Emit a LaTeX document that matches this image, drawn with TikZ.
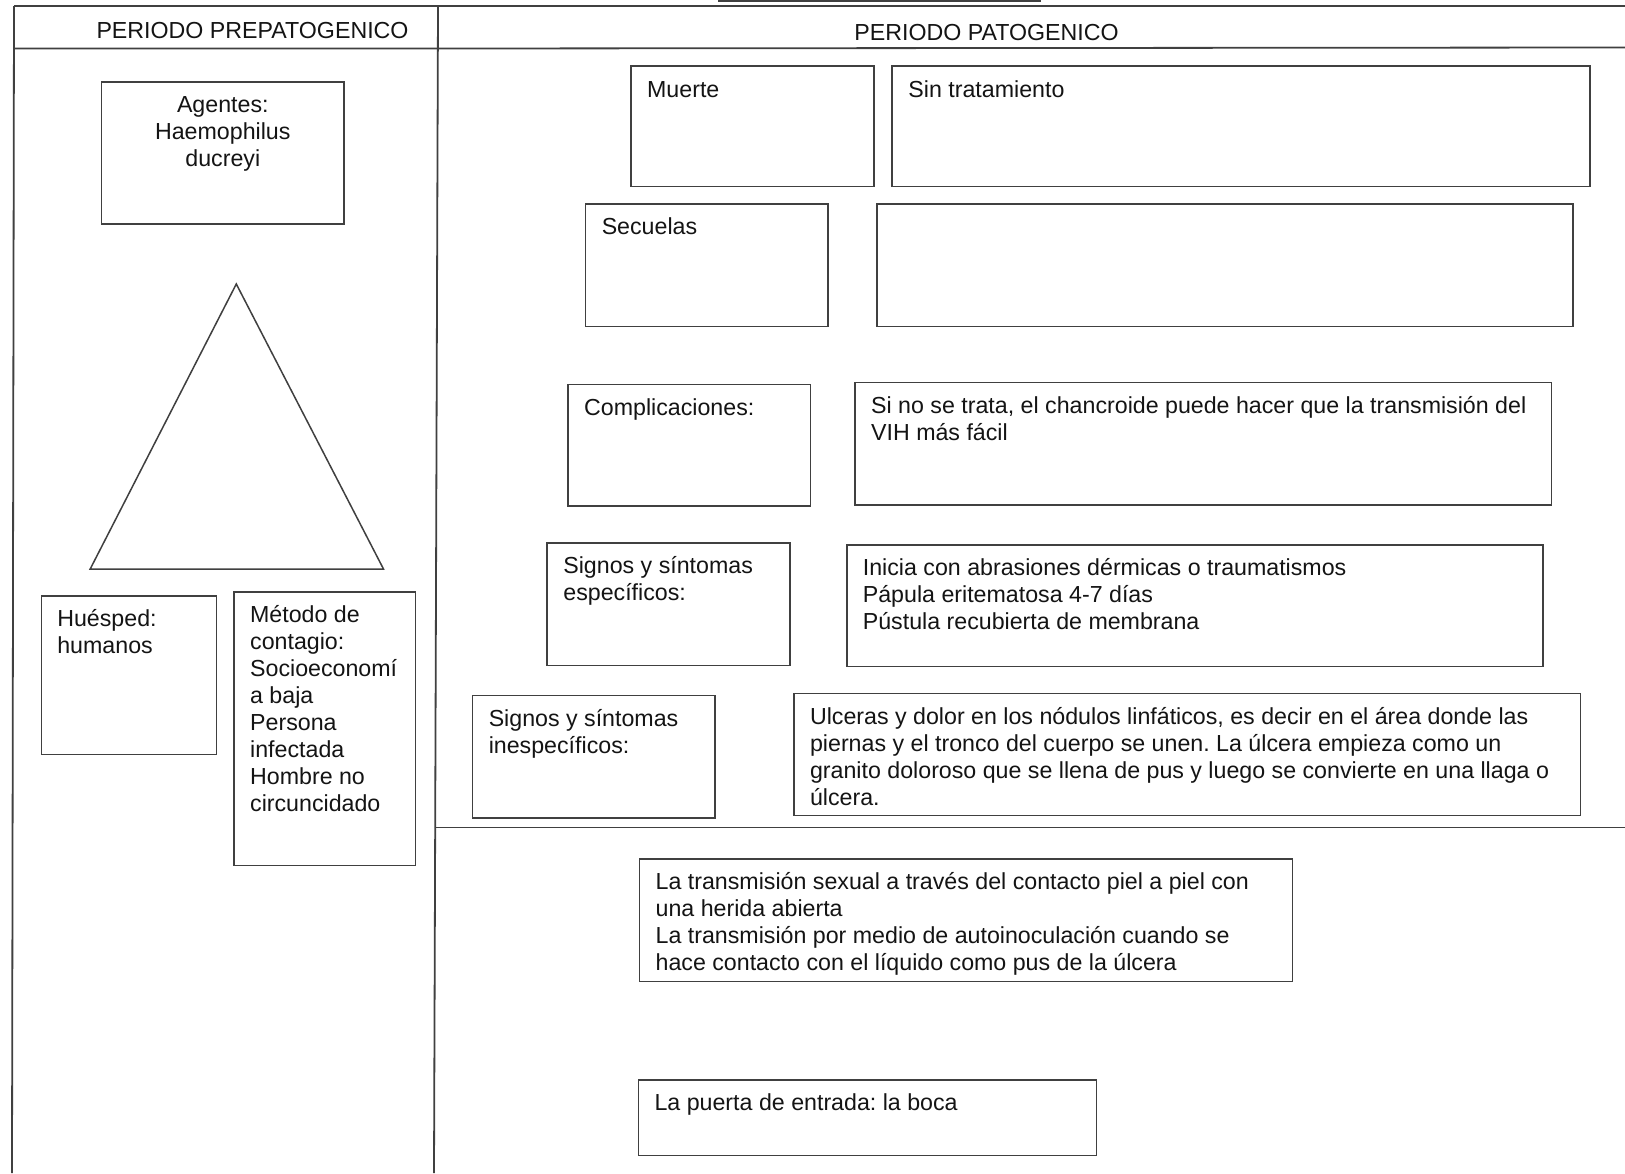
\documentclass[tikz,border=0pt]{standalone}
\usepackage{fontspec}
\setmainfont{Liberation Sans}
\usetikzlibrary{fit}
\definecolor{linea}{gray}{0.25}
\definecolor{tinta}{gray}{0.08}
\newcommand\letra{\fontsize{23.2pt}{27pt}\selectfont\frenchspacing}
\begin{document}
\begin{tikzpicture}[x=1pt,y=-1pt,
  marco/.style={draw=linea,line width=1.8pt},
  caja/.style={draw=linea,line width=1.7pt,inner sep=0pt,fit={#1}},
  txt/.style={anchor=north west,inner sep=0pt,align=left,text=tinta,font=\letra},
  titulo/.style={anchor=base,inner sep=0pt,text=tinta,font=\letra}]
\useasboundingbox[fill=white] (0,0) rectangle (1625,1173);

% frame of the table
\coordinate (tl) at (14,6);
\coordinate (tr) at (1625,6);
\coordinate (bl) at (12,1173);
\coordinate (mt) at (438,6);
\coordinate (mb) at (434,1173);
\coordinate (hl) at (14,48.5);
\coordinate (hm) at (438,48.5);
\coordinate (hr) at (1625,47.5);
\coordinate (dl) at (434.5,827.5);
\coordinate (dr) at (1625,827.5);
\draw[marco] (tl) -- (tr);
\draw[marco] (tl) -- (bl);
\draw[marco] (mt) -- (mb);
\draw[marco] (hl) -- (hm) -- (hr);
\draw[marco] (dl) -- (dr);
\node[caja={(719,-6) (1040,1)}] (arriba) {};

% column headings
\node[titulo] (tpre) at (252.5,38) {PERIODO PREPATOGENICO};
\node[titulo] (tpat) at (986.5,40) {PERIODO PATOGENICO};

% prepathogenic period
\node[caja={(101.6,81.9) (344,223.9)}] (agentes) {};
\node[txt,anchor=north,align=center] (tagentes) at ([yshift=-12pt]agentes.north)
  {\strut Agentes:\\Haemophilus\\ducreyi};

\coordinate (ta) at (236.3,284);
\coordinate (tb) at (90.2,569);
\coordinate (tc) at (383.5,569);
\draw[draw=linea,line width=1.5pt,line join=miter] (ta) -- (tb) -- (tc) -- cycle;

\node[caja={(41.5,596) (216.6,754.5)}] (huesped) {};
\node[txt] (thuesped) at ([shift={(16.5,12.5)}]huesped.north west)
  {\strut Huésped:\\humanos};

\node[caja={(234,591.8) (415.6,865.4)}] (metodo) {};
\node[txt] (tmetodo) at ([shift={(16.8,12.5)}]metodo.north west)
  {\strut Método de\\contagio:\\Socioeconomí\\a baja\\Persona\\infectada\\Hombre no\\circuncidado};

% pathogenic period
\node[caja={(631,66.3) (873.7,186.6)}] (muerte) {};
\node[txt] (tmuerte) at ([shift={(16.8,12.5)}]muerte.north west) {\strut Muerte};

\node[caja={(892.3,66.3) (1589.8,186.6)}] (sintrat) {};
\node[txt] (tsintrat) at ([shift={(16.8,12.5)}]sintrat.north west) {\strut Sin tratamiento};

\node[caja={(585.6,204) (828,326.5)}] (secuelas) {};
\node[txt] (tsecuelas) at ([shift={(16.8,12.5)}]secuelas.north west) {\strut Secuelas};

\node[caja={(876.8,204) (1573.3,326.5)}] (vacia) {};

\node[caja={(568,384.5) (810.5,505.8)}] (compl) {};
\node[txt] (tcompl) at ([shift={(16.8,12.5)}]compl.north west) {\strut Complicaciones:};

\node[caja={(855,382.4) (1551.5,504.7)}] (sinotrata) {};
\node[txt] (tsinotrata) at ([shift={(16.8,12.5)}]sinotrata.north west)
  {\strut Si no se trata, el chancroide puede hacer que la transmisión del\\VIH más fácil};

\node[caja={(547.2,543) (789.7,665.4)}] (especif) {};
\node[txt] (tespecif) at ([shift={(16.8,12.5)}]especif.north west)
  {\strut Signos y síntomas\\específicos:};

\node[caja={(846.7,545) (1543.2,666.4)}] (inicia) {};
\node[txt] (tinicia) at ([shift={(16.8,12.5)}]inicia.north west)
  {\strut Inicia con abrasiones dérmicas o traumatismos\\Pápula eritematosa 4-7 días\\Pústula recubierta de membrana};

\node[caja={(472.6,695.4) (715,817.7)}] (inespec) {};
\node[txt] (tinespec) at ([shift={(16.8,12.5)}]inespec.north west)
  {\strut Signos y síntomas\\inespecíficos:};

\node[caja={(793.9,693.4) (1580.5,815.6)}] (ulceras) {};
\node[txt] (tulceras) at ([shift={(16.8,12.5)}]ulceras.north west)
  {\strut Ulceras y dolor en los nódulos linfáticos, es decir en el área donde las\\piernas y el tronco del cuerpo se unen. La úlcera empieza como un\\granito doloroso que se llena de pus y luego se convierte en una llaga o\\úlcera.};

\node[caja={(639.5,859) (1292.4,981.5)}] (transm) {};
\node[txt] (ttransm) at ([shift={(16.8,12.5)}]transm.north west)
  {\strut La transmisión sexual a través del contacto piel a piel con\\una herida abierta\\La transmisión por medio de autoinoculación cuando se\\hace contacto con el líquido como pus de la úlcera};

\node[caja={(638.4,1080) (1096.5,1155.6)}] (puerta) {};
\node[txt] (tpuerta) at ([shift={(16.8,12.5)}]puerta.north west) {\strut La puerta de entrada: la boca};
\end{tikzpicture}
\end{document}
